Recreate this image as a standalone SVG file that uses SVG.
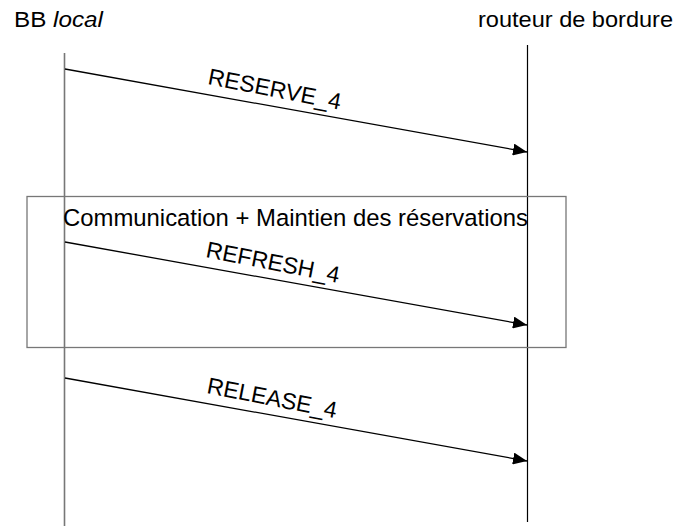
<svg xmlns="http://www.w3.org/2000/svg" width="676" height="526" viewBox="0 0 676 526">
<style>
text{font-family:"Liberation Sans",Arial,sans-serif;fill:#000}
.hdr{font-size:22px}
.lbl{font-size:23px}
.msg{stroke:#000;stroke-width:1.3;fill:none;marker-end:url(#ah)}
</style>
<defs>
<marker id="ah" markerUnits="userSpaceOnUse" markerWidth="14" markerHeight="12" refX="14" refY="6" orient="auto">
<path d="M0,0 L14,6 L0,12 Z" fill="#000"/>
</marker>
</defs>
<rect width="676" height="526" fill="#fff"/>
<g id="bb-local">
<text class="hdr" x="14" y="27" textLength="89" lengthAdjust="spacingAndGlyphs">BB <tspan font-style="italic">local</tspan></text>
<line x1="64.5" y1="53" x2="64.5" y2="526" stroke="#777" stroke-width="1.6"/>
</g>
<g id="routeur">
<text class="hdr" x="478" y="27" textLength="195" lengthAdjust="spacingAndGlyphs">routeur de bordure</text>
<line x1="527.5" y1="45" x2="527.5" y2="522" stroke="#000" stroke-width="1.2"/>
</g>
<g id="maintien">
<rect x="27" y="196.5" width="539" height="151" fill="none" stroke="#777" stroke-width="1.3"/>
<text x="63" y="226" font-size="24.5" textLength="465" lengthAdjust="spacingAndGlyphs">Communication + Maintien des réservations</text>
</g>
<g id="connectors">
<line class="msg" x1="65" y1="69" x2="527" y2="152"/>
<text class="lbl" transform="translate(207,84) rotate(11)">RESERVE_4</text>
<line class="msg" x1="65" y1="242" x2="527" y2="325"/>
<text class="lbl" transform="translate(205,257) rotate(11)">REFRESH_4</text>
<line class="msg" x1="65" y1="378" x2="527" y2="461"/>
<text class="lbl" transform="translate(206,393) rotate(11)">RELEASE_4</text>
</g>
</svg>
